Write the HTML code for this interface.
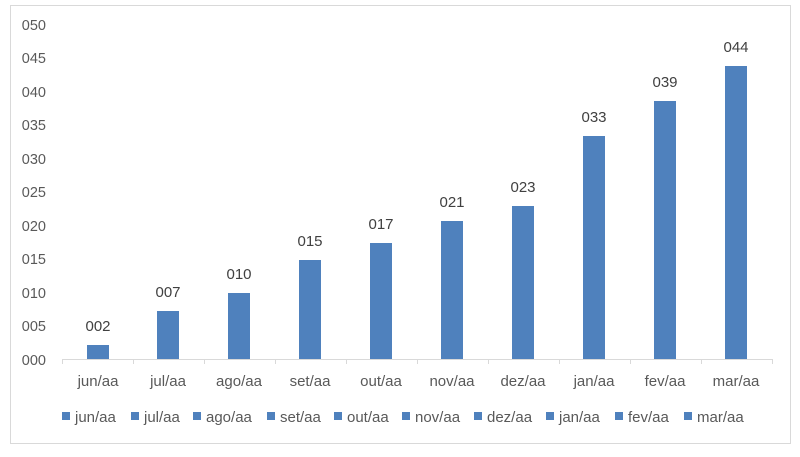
<!DOCTYPE html><html><head><style>body{margin:0;background:#fff;width:800px;height:452px;overflow:hidden}</style></head><body>
<svg width="800" height="452" xmlns="http://www.w3.org/2000/svg" font-family="Liberation Sans, sans-serif">
<rect x="10.5" y="5.5" width="780" height="438" fill="#fff" stroke="#d9d9d9"/>
<g fill="#595959" font-size="14.5" text-anchor="end">
<text x="46" y="365">000</text><text x="46" y="331">005</text><text x="46" y="298">010</text><text x="46" y="264">015</text><text x="46" y="231">020</text><text x="46" y="197">025</text><text x="46" y="164">030</text><text x="46" y="130">035</text><text x="46" y="97">040</text><text x="46" y="63">045</text><text x="46" y="30">050</text>
</g>
<line x1="62" y1="359.5" x2="772" y2="359.5" stroke="#d9d9d9"/>
<g stroke="#d9d9d9"><line x1="62.5" y1="359" x2="62.5" y2="364"/><line x1="133.5" y1="359" x2="133.5" y2="364"/><line x1="204.5" y1="359" x2="204.5" y2="364"/><line x1="275.5" y1="359" x2="275.5" y2="364"/><line x1="346.5" y1="359" x2="346.5" y2="364"/><line x1="417.5" y1="359" x2="417.5" y2="364"/><line x1="488.5" y1="359" x2="488.5" y2="364"/><line x1="559.5" y1="359" x2="559.5" y2="364"/><line x1="630.5" y1="359" x2="630.5" y2="364"/><line x1="701.5" y1="359" x2="701.5" y2="364"/><line x1="772.5" y1="359" x2="772.5" y2="364"/></g>
<g fill="#4f81bd">
<rect x="87" y="345" width="22" height="14"/><rect x="157" y="311" width="22" height="48"/><rect x="228" y="293" width="22" height="66"/><rect x="299" y="260" width="22" height="99"/><rect x="370" y="243" width="22" height="116"/><rect x="441" y="221" width="22" height="138"/><rect x="512" y="206" width="22" height="153"/><rect x="583" y="136" width="22" height="223"/><rect x="654" y="101" width="22" height="258"/><rect x="725" y="66" width="22" height="293"/>
</g>
<g fill="#404040" font-size="15" text-anchor="middle">
<text x="98" y="331">002</text><text x="168" y="297">007</text><text x="239" y="279">010</text><text x="310" y="246">015</text><text x="381" y="229">017</text><text x="452" y="207">021</text><text x="523" y="192">023</text><text x="594" y="122">033</text><text x="665" y="87">039</text><text x="736" y="52">044</text>
</g>
<g fill="#595959" font-size="15" text-anchor="middle">
<text x="98" y="386">jun/aa</text><text x="168" y="386">jul/aa</text><text x="239" y="386">ago/aa</text><text x="310" y="386">set/aa</text><text x="381" y="386">out/aa</text><text x="452" y="386">nov/aa</text><text x="523" y="386">dez/aa</text><text x="594" y="386">jan/aa</text><text x="665" y="386">fev/aa</text><text x="736" y="386">mar/aa</text>
</g>
<g fill="#4f81bd">
<rect x="62" y="412" width="8" height="8"/><rect x="131" y="412" width="8" height="8"/><rect x="193" y="412" width="8" height="8"/><rect x="267" y="412" width="8" height="8"/><rect x="334" y="412" width="8" height="8"/><rect x="402" y="412" width="8" height="8"/><rect x="474" y="412" width="8" height="8"/><rect x="546" y="412" width="8" height="8"/><rect x="615" y="412" width="8" height="8"/><rect x="684" y="412" width="8" height="8"/>
</g>
<g fill="#595959" font-size="15">
<text x="75" y="422">jun/aa</text><text x="144" y="422">jul/aa</text><text x="206" y="422">ago/aa</text><text x="280" y="422">set/aa</text><text x="347" y="422">out/aa</text><text x="415" y="422">nov/aa</text><text x="487" y="422">dez/aa</text><text x="559" y="422">jan/aa</text><text x="628" y="422">fev/aa</text><text x="697" y="422">mar/aa</text>
</g>
</svg></body></html>
